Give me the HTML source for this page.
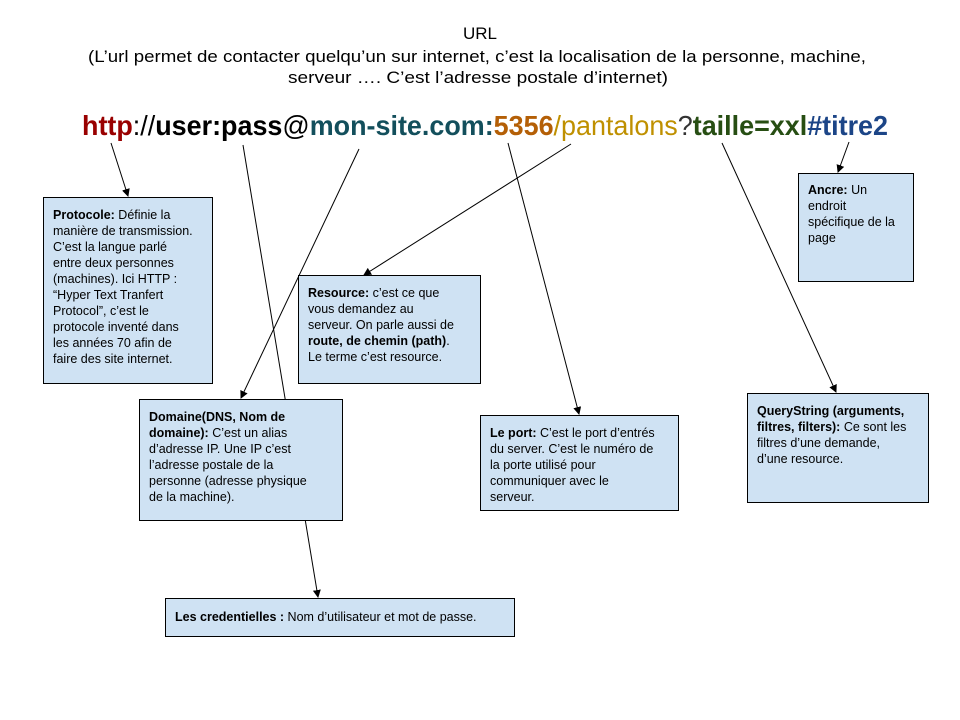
<!DOCTYPE html>
<html><head><meta charset="utf-8"><style>
html,body{margin:0;padding:0;background:#fff;}
svg{display:block;font-family:"Liberation Sans",Arial,sans-serif;}
.t{font-size:12.5px;fill:#000;}
.b{font-weight:bold;}
</style></head><body>
<svg width="960" height="720" viewBox="0 0 960 720" xmlns="http://www.w3.org/2000/svg">
<defs><marker id="a" markerWidth="8" markerHeight="8" refX="7" refY="4" orient="auto" markerUnits="userSpaceOnUse"><path d="M0,0 L8,4 L0,8 z" fill="#000"/></marker></defs>
<rect width="960" height="720" fill="#fff"/>
<g font-size="17" text-anchor="middle">
<text x="480" y="39">URL</text>
<text x="477" y="62" textLength="778" lengthAdjust="spacingAndGlyphs">(L’url permet de contacter quelqu’un sur internet, c’est la localisation de la personne, machine,</text>
<text x="478" y="83" textLength="380" lengthAdjust="spacingAndGlyphs">serveur …. C’est l’adresse postale d’internet)</text>
</g>
<text x="82" y="135" font-size="28" font-weight="bold" textLength="806" lengthAdjust="spacingAndGlyphs"><tspan fill="#990000">http</tspan><tspan fill="#000" font-weight="normal">://</tspan><tspan fill="#000">user:pass</tspan><tspan fill="#000" font-weight="normal">@</tspan><tspan fill="#134f5c">mon-site.com:</tspan><tspan fill="#b45f06">5356</tspan><tspan fill="#bf9000" font-weight="normal">/pantalons</tspan><tspan fill="#333" font-weight="normal">?</tspan><tspan fill="#274e13">taille=xxl</tspan><tspan fill="#1c4587">#titre2</tspan></text>
<g stroke="#000" stroke-width="1" fill="none">
<line x1="111" y1="143" x2="128" y2="196" marker-end="url(#a)"/>
<line x1="243" y1="145" x2="318" y2="597" marker-end="url(#a)"/>
<line x1="359" y1="149" x2="241" y2="398" marker-end="url(#a)"/>
<line x1="571" y1="144" x2="364" y2="275" marker-end="url(#a)"/>
<line x1="508" y1="143" x2="579" y2="414" marker-end="url(#a)"/>
<line x1="722" y1="143" x2="836" y2="392" marker-end="url(#a)"/>
<line x1="849" y1="142" x2="838" y2="172" marker-end="url(#a)"/>
</g>
<g fill="#cfe2f3" stroke="#000" stroke-width="1">
<rect x="43.5" y="197.5" width="169" height="186"/>
<rect x="298.5" y="275.5" width="182" height="108"/>
<rect x="798.5" y="173.5" width="115" height="108"/>
<rect x="139.5" y="399.5" width="203" height="121"/>
<rect x="480.5" y="415.5" width="198" height="95"/>
<rect x="747.5" y="393.5" width="181" height="109"/>
<rect x="165.5" y="598.5" width="349" height="38"/>
</g>
<g class="t">
<text x="53" y="219"><tspan class="b">Protocole:</tspan> Définie la</text>
<text x="53" y="235">manière de transmission.</text>
<text x="53" y="251">C’est la langue parlé</text>
<text x="53" y="267">entre deux personnes</text>
<text x="53" y="283">(machines). Ici HTTP :</text>
<text x="53" y="299">“Hyper Text Tranfert</text>
<text x="53" y="315">Protocol”, c’est le</text>
<text x="53" y="331">protocole inventé dans</text>
<text x="53" y="347">les années 70 afin de</text>
<text x="53" y="363">faire des site internet.</text>

<text x="308" y="297"><tspan class="b">Resource:</tspan> c’est ce que</text>
<text x="308" y="313">vous demandez au</text>
<text x="308" y="329">serveur. On parle aussi de</text>
<text x="308" y="345"><tspan class="b">route, de chemin (path)</tspan>.</text>
<text x="308" y="361">Le terme c’est resource.</text>

<text x="808" y="194"><tspan class="b">Ancre:</tspan> Un</text>
<text x="808" y="210">endroit</text>
<text x="808" y="226">spécifique de la</text>
<text x="808" y="242">page</text>

<text x="149" y="421" class="b">Domaine(DNS, Nom de</text>
<text x="149" y="437"><tspan class="b">domaine):</tspan>  C’est un alias</text>
<text x="149" y="453">d’adresse IP. Une IP c’est</text>
<text x="149" y="469">l’adresse postale de la</text>
<text x="149" y="485">personne (adresse physique</text>
<text x="149" y="501">de la machine).</text>

<text x="490" y="437"><tspan class="b">Le port:</tspan> C’est le port d’entrés</text>
<text x="490" y="453">du server. C’est le numéro de</text>
<text x="490" y="469">la porte utilisé pour</text>
<text x="490" y="485">communiquer avec le</text>
<text x="490" y="501">serveur.</text>

<text x="757" y="415" class="b">QueryString (arguments,</text>
<text x="757" y="431"><tspan class="b">filtres, filters):</tspan> Ce sont les</text>
<text x="757" y="447">filtres d’une demande,</text>
<text x="757" y="463">d’une resource.</text>

<text x="175" y="621"><tspan class="b">Les credentielles :</tspan> Nom d’utilisateur et mot de passe.</text>
</g>
</svg>
</body></html>
